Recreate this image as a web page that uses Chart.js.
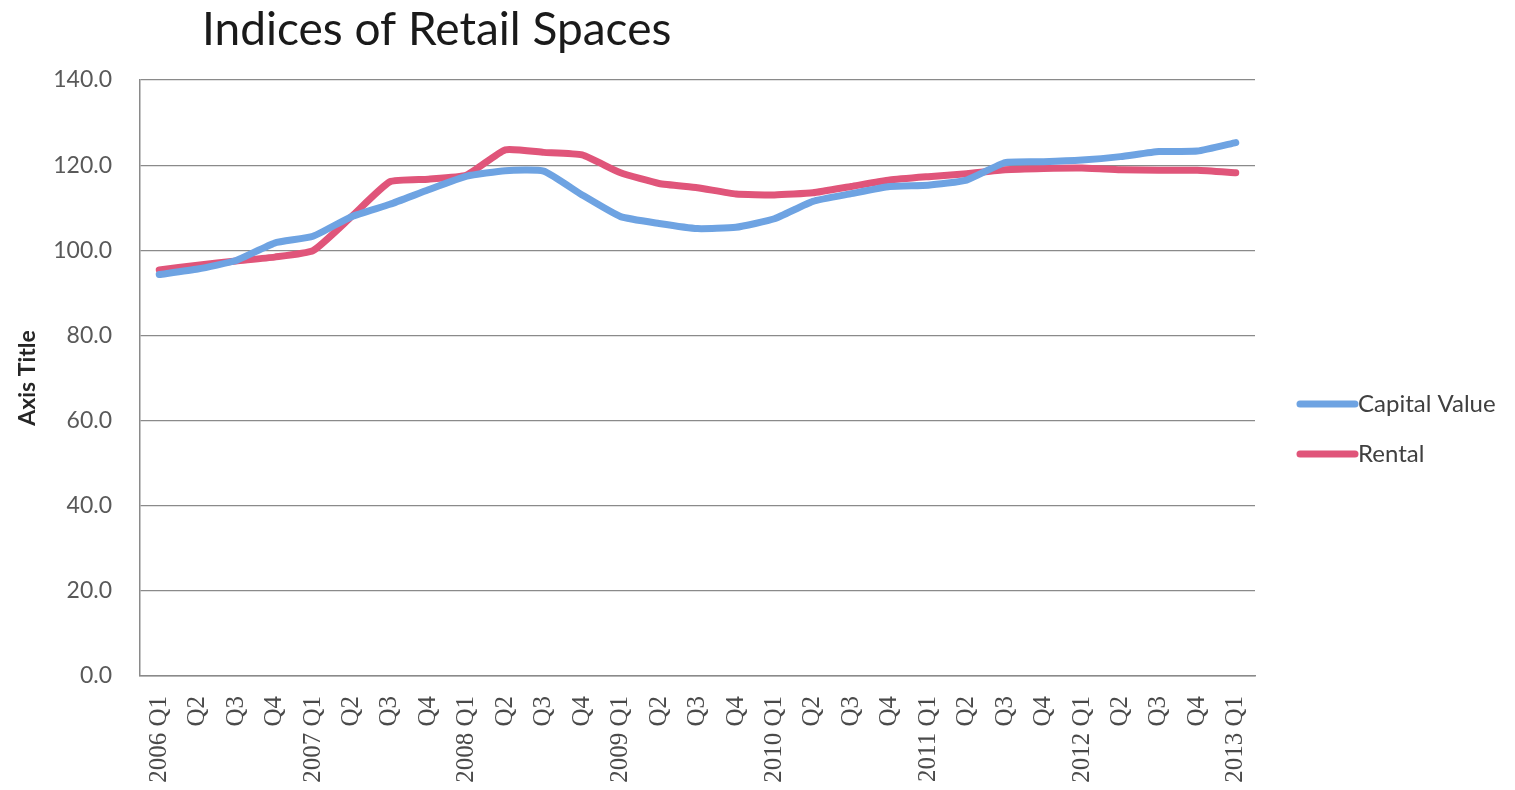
<!DOCTYPE html>
<html>
<head>
<meta charset="utf-8">
<title>Indices of Retail Spaces</title>
<script src="https://cdn.jsdelivr.net/npm/chart.js@4/dist/chart.umd.min.js"></script>
<style>
    html, body { margin: 0; padding: 0; background: #ffffff; }
    #wrap { width: 1515px; height: 790px; position: relative; }
</style>
</head>
<body>
<div id="wrap"><canvas id="retailChart" width="1515" height="790"></canvas></div>
<script>
// 분기 레이블
const quarters = [
    '2006 Q1', 'Q2', 'Q3', 'Q4',
    '2007 Q1', 'Q2', 'Q3', 'Q4',
    '2008 Q1', 'Q2', 'Q3', 'Q4',
    '2009 Q1', 'Q2', 'Q3', 'Q4',
    '2010 Q1', 'Q2', 'Q3', 'Q4',
    '2011 Q1', 'Q2', 'Q3', 'Q4',
    '2012 Q1', 'Q2', 'Q3', 'Q4',
    '2013 Q1'
];

// 지수 값
const capitalValue = [
    94.3, 95.6, 97.6, 101.7,
    103.3, 107.9, 110.8, 114.2,
    117.4, 118.7, 118.6, 113.0,
    107.9, 106.3, 105.1, 105.4,
    107.4, 111.5, 113.3, 115.0,
    115.3, 116.5, 120.6, 120.8,
    121.2, 122.0, 123.2, 123.3,
    125.3
];

const rental = [
    95.4, 96.5, 97.5, 98.4,
    99.9, 107.9, 116.1, 116.7,
    117.7, 123.6, 123.0, 122.4,
    118.2, 115.7, 114.7, 113.2,
    113.0, 113.5, 115.0, 116.5,
    117.3, 118.0, 118.9, 119.2,
    119.3, 118.9, 118.8, 118.8,
    118.2
];

const yTicks = [0, 20, 40, 60, 80, 100, 120, 140];

const chartTitle = 'Indices of Retail Spaces';
const yAxisTitle = 'Axis Title';

const BLUE = '#6ea3e2';
const RED = '#e0557a';

// 제목 그리기
const titlePlugin = {
    id: 'topTitle',
    afterDraw(chart) {
        const ctx = chart.ctx;
        ctx.save();
        ctx.font = '46px Lato, "Open Sans", sans-serif';
        ctx.fillStyle = '#1a1a1a';
        ctx.textAlign = 'left';
        ctx.textBaseline = 'middle';
        ctx.fillText(chartTitle, 202, 30);
        ctx.restore();
    }
};

// 오른쪽 범례
const sideLegend = {
    id: 'sideLegend',
    afterDraw(chart) {
        const ctx = chart.ctx;
        ctx.save();
        chart.data.datasets.forEach((ds, i) => {
            const y = 404 + i * 50;
            ctx.strokeStyle = ds.borderColor;
            ctx.lineWidth = 7;
            ctx.lineCap = 'round';
            ctx.beginPath();
            ctx.moveTo(1300, y);
            ctx.lineTo(1355, y);
            ctx.stroke();
            ctx.font = '24px Lato, "Open Sans", sans-serif';
            ctx.fillStyle = '#404040';
            ctx.textAlign = 'left';
            ctx.textBaseline = 'middle';
            ctx.fillText(ds.label, 1358, y);
        });
        ctx.restore();
    }
};

new Chart(document.getElementById('retailChart').getContext('2d'), {
    type: 'line',
    data: {
        labels: quarters,
        datasets: [
            {
                label: 'Capital Value',
                data: capitalValue,
                borderColor: BLUE,
                backgroundColor: BLUE,
                borderWidth: 7,
                pointRadius: 0,
                tension: 0.15,
                borderCapStyle: 'round',
                borderJoinStyle: 'round'
            },
            {
                label: 'Rental',
                data: rental,
                borderColor: RED,
                backgroundColor: RED,
                borderWidth: 7,
                pointRadius: 0,
                tension: 0.15,
                borderCapStyle: 'round',
                borderJoinStyle: 'round'
            }
        ]
    },
    options: {
        responsive: false,
        animation: false,
        layout: { padding: { left: 0, top: 80, right: 260, bottom: 0 } },
        plugins: {
            legend: { display: false },
            title: { display: false },
            tooltip: { enabled: false }
        },
        scales: {
            x: {
                offset: true,
                afterFit: (scale) => { scale.height = 114; },
                grid: { display: false },
                border: { display: true, color: '#8a8a8a', width: 1.5 },
                ticks: {
                    autoSkip: false,
                    maxRotation: 90,
                    minRotation: 90,
                    padding: 12,
                    color: '#4a4a4a',
                    font: { family: '"Liberation Serif", serif', size: 25 }
                }
            },
            y: {
                min: 0,
                max: 140,
                afterFit: (scale) => { scale.width = 140; },
                afterBuildTicks: (scale) => {
                    scale.ticks = yTicks.map(v => ({ value: v }));
                },
                grid: {
                    color: '#8a8a8a',
                    lineWidth: 1.2,
                    drawTicks: false
                },
                border: { display: true, color: '#8a8a8a', width: 1.5 },
                ticks: {
                    padding: 28,
                    color: '#595959',
                    font: { family: 'Lato, "Open Sans", sans-serif', size: 23 },
                    callback: (value) => Number(value).toFixed(1)
                },
                title: {
                    display: true,
                    text: yAxisTitle,
                    color: '#262626',
                    padding: { top: 14, bottom: 0 },
                    font: { family: 'Lato, "Open Sans", sans-serif', size: 23, weight: 'bold' }
                }
            }
        }
    },
    plugins: [titlePlugin, sideLegend]
});
</script>
</body>
</html>
